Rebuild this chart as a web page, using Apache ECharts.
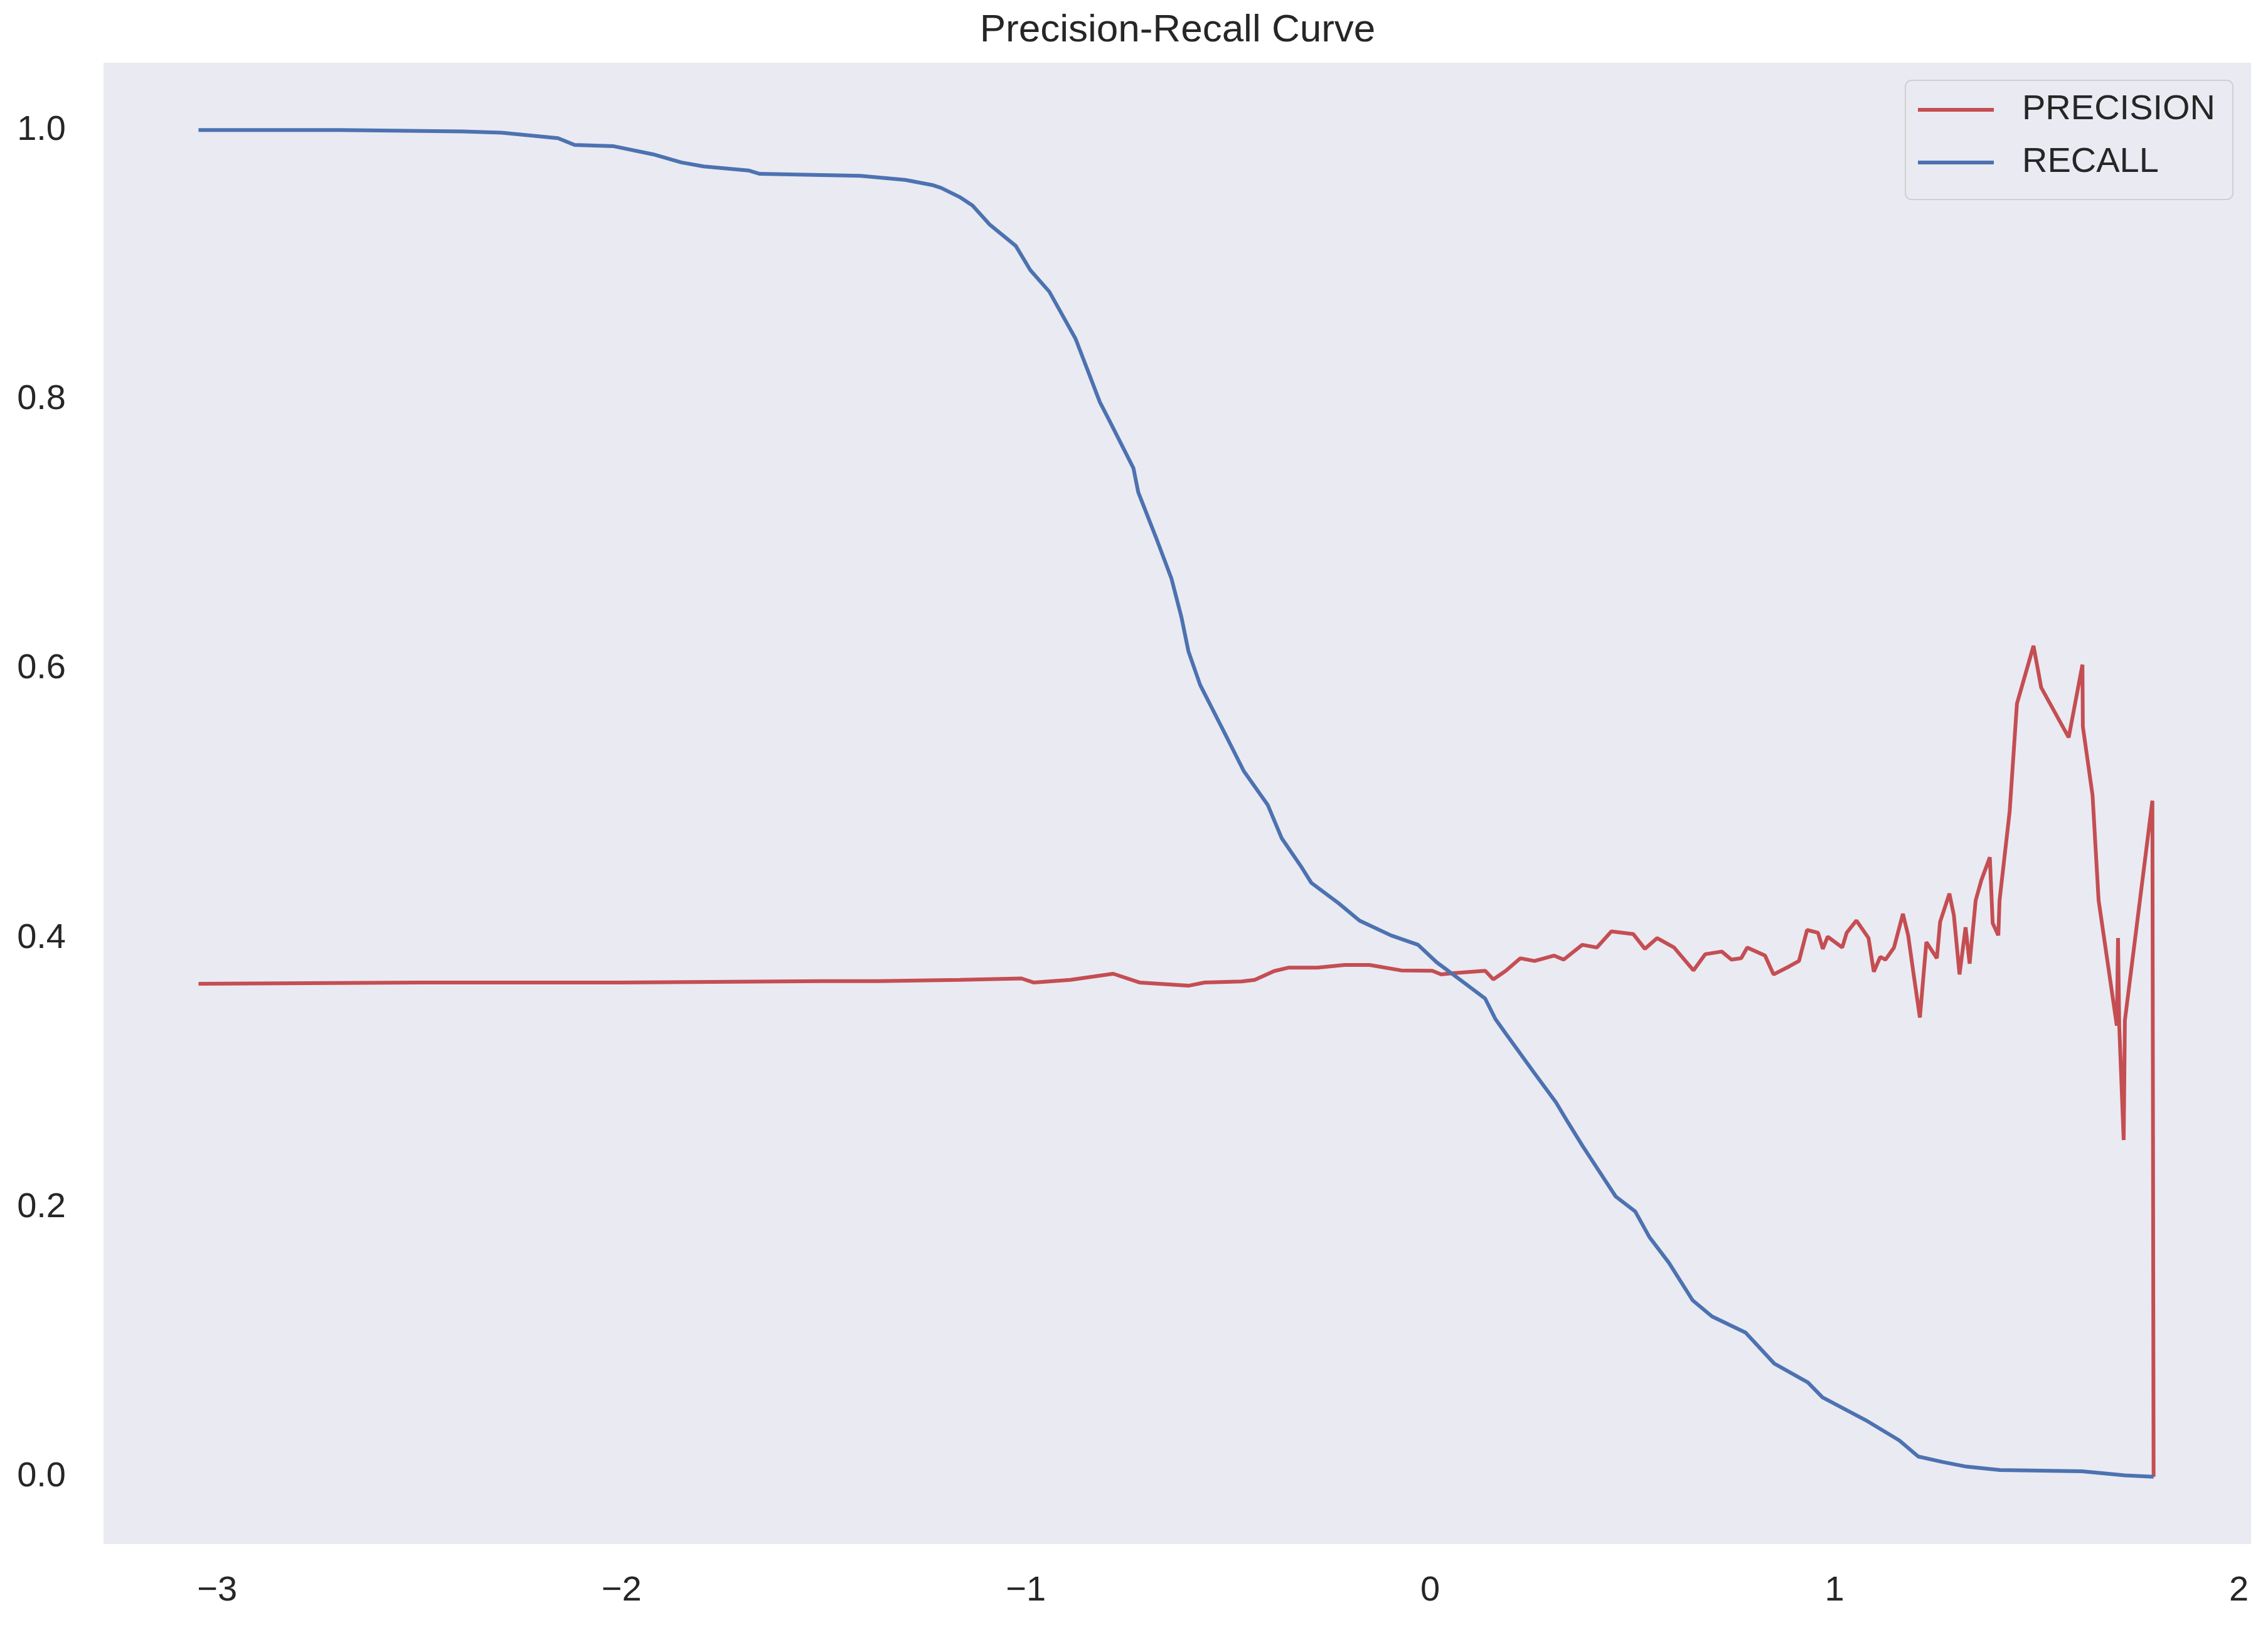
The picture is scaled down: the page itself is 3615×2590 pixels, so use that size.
<!DOCTYPE html>
<html>
<head>
<meta charset="utf-8">
<script src="https://cdn.jsdelivr.net/npm/echarts@6/dist/echarts.min.js"></script>
<style>
  html, body { margin: 0; padding: 0; background: #ffffff; }
  #chart { width: 3615px; height: 2590px; }
</style>
</head>
<body>
<div id="chart"></div>
<script>
// ---- Data ----
const precisionThresholds = [
  -3.046, -2.5, -2.0, -1.5, -1.365, -1.163, -1.011, -0.981, -0.890, -0.784,
  -0.719, -0.598, -0.558, -0.466, -0.434, -0.386, -0.351, -0.279, -0.212, -0.150,
  -0.072, 0.005, 0.027, 0.058, 0.136, 0.156, 0.187, 0.223, 0.258, 0.306,
  0.330, 0.376, 0.412, 0.448, 0.502, 0.531, 0.561, 0.603, 0.651, 0.680,
  0.721, 0.745, 0.769, 0.784, 0.828, 0.849, 0.888, 0.912, 0.932, 0.959,
  0.971, 0.983, 1.019, 1.030, 1.054, 1.084, 1.097, 1.113, 1.126, 1.147,
  1.169, 1.182, 1.196, 1.211, 1.227, 1.253, 1.261, 1.284, 1.295, 1.309,
  1.324, 1.334, 1.349, 1.363, 1.384, 1.391, 1.405, 1.408, 1.433, 1.451,
  1.492, 1.511, 1.579, 1.613, 1.614, 1.638, 1.653, 1.698, 1.701, 1.704,
  1.715, 1.718, 1.786, 1.789
];
const precisionValues = [
  0.366, 0.367, 0.367, 0.368, 0.368, 0.369, 0.370, 0.367, 0.369, 0.3735,
  0.367, 0.3646, 0.367, 0.3678, 0.369, 0.3755, 0.378, 0.378, 0.380, 0.380,
  0.376, 0.3757, 0.373, 0.374, 0.3757, 0.3693, 0.3757, 0.385, 0.383, 0.387,
  0.384, 0.395, 0.393, 0.405, 0.403, 0.392, 0.400, 0.393, 0.376, 0.388,
  0.390, 0.384, 0.385, 0.393, 0.387, 0.373, 0.379, 0.383, 0.406, 0.404,
  0.392, 0.401, 0.393, 0.404, 0.413, 0.400, 0.375, 0.386, 0.384, 0.393,
  0.418, 0.402, 0.372, 0.341, 0.397, 0.385, 0.412, 0.433, 0.417, 0.373,
  0.408, 0.381, 0.428, 0.443, 0.460, 0.411, 0.402, 0.428, 0.494, 0.574,
  0.617, 0.586, 0.549, 0.603, 0.557, 0.506, 0.428, 0.335, 0.400, 0.335,
  0.250, 0.339, 0.502, 0.0
];
const recallThresholds = [
  -3.046, -2.697, -2.393, -2.296, -2.157, -2.116, -2.019, -1.922, -1.852, -1.797,
  -1.686, -1.658, -1.409, -1.298, -1.229, -1.209, -1.162, -1.132, -1.090, -1.025,
  -0.989, -0.942, -0.877, -0.817, -0.793, -0.734, -0.722, -0.675, -0.640, -0.615,
  -0.598, -0.569, -0.508, -0.461, -0.402, -0.367, -0.319, -0.294, -0.227, -0.175,
  -0.097, -0.030, 0.016, 0.083, 0.136, 0.161, 0.187, 0.257, 0.311, 0.341,
  0.376, 0.424, 0.459, 0.507, 0.542, 0.590, 0.649, 0.697, 0.780, 0.851,
  0.934, 0.970, 1.077, 1.160, 1.207, 1.267, 1.326, 1.409, 1.612, 1.718,
  1.789
];
const recallValues = [
  1.0, 1.0, 0.999, 0.998, 0.994, 0.989, 0.988, 0.982, 0.976, 0.973,
  0.970, 0.9675, 0.966, 0.963, 0.959, 0.957, 0.950, 0.944, 0.930, 0.914,
  0.896, 0.880, 0.845, 0.798, 0.784, 0.749, 0.731, 0.695, 0.667, 0.638,
  0.613, 0.588, 0.552, 0.524, 0.499, 0.474, 0.453, 0.441, 0.426, 0.413,
  0.402, 0.395, 0.382, 0.367, 0.355, 0.340, 0.329, 0.300, 0.278, 0.263,
  0.246, 0.224, 0.208, 0.197, 0.178, 0.159, 0.131, 0.119, 0.107, 0.084,
  0.070, 0.059, 0.042, 0.027, 0.015, 0.011, 0.0075, 0.005, 0.004, 0.001,
  0.0
];
const xTickValues = [-3, -2, -1, 0, 1, 2];
const yTickValues = [0.0, 0.2, 0.4, 0.6, 0.8, 1.0];
const seriesNames = ['PRECISION', 'RECALL'];
const titleText = 'Precision-Recall Curve';

// ---- Chart ----
const textColor = '#262626';
const fontFamily = '"Liberation Sans", Arial, sans-serif';
const chart = echarts.init(document.getElementById('chart'), null, { renderer: 'canvas' });

const precisionData = precisionThresholds.map((t, i) => [t, precisionValues[i]]);
const recallData = recallThresholds.map((t, i) => [t, recallValues[i]]);

chart.setOption({
  animation: false,
  backgroundColor: '#ffffff',
  title: {
    text: titleText,
    left: 1877,
    textAlign: 'center',
    top: 16,
    padding: 0,
    textStyle: { fontFamily, fontSize: 62, fontWeight: 'normal', color: textColor, lineHeight: 66 }
  },
  grid: {
    left: 165, right: 27, top: 100, bottom: 129,
    show: true, backgroundColor: '#EAEAF2', borderWidth: 0
  },
  legend: {
    orient: 'vertical',
    left: 3037,
    top: 128,
    padding: [18, 28, 30, 20],
    itemGap: 26,
    itemWidth: 121,
    itemHeight: 6,
    backgroundColor: 'rgba(234,234,242,0.8)',
    borderColor: '#d0d0d0',
    borderWidth: 2,
    borderRadius: 10,
    textStyle: { fontFamily, fontSize: 56, color: textColor, lineHeight: 58, padding: [0, 0, 0, 40] },
    data: [
      { name: seriesNames[0], icon: 'rect' },
      { name: seriesNames[1], icon: 'rect' }
    ]
  },
  xAxis: {
    type: 'value',
    min: -3.281,
    max: 2.03,
    axisLine: { show: false },
    axisTick: { show: false },
    splitLine: { show: false },
    axisLabel: {
      customValues: xTickValues,
      margin: 46,
      fontFamily, fontSize: 56, color: textColor, lineHeight: 58,
      formatter: v => (v < 0 ? '\u2212' + Math.abs(v) : String(v))
    }
  },
  yAxis: {
    type: 'value',
    min: -0.05,
    max: 1.05,
    axisLine: { show: false },
    axisTick: { show: false },
    splitLine: { show: false },
    axisLabel: {
      customValues: yTickValues,
      margin: 60,
      fontFamily, fontSize: 56, color: textColor,
      formatter: v => v.toFixed(1)
    }
  },
  series: [
    {
      name: seriesNames[0],
      type: 'line',
      data: precisionData,
      showSymbol: false,
      symbol: 'none',
      color: '#C44E52',
      lineStyle: { width: 6, color: '#C44E52' },
      z: 2
    },
    {
      name: seriesNames[1],
      type: 'line',
      data: recallData,
      showSymbol: false,
      symbol: 'none',
      color: '#4C72B0',
      lineStyle: { width: 6, color: '#4C72B0' },
      z: 3
    }
  ]
});
</script>
</body>
</html>
